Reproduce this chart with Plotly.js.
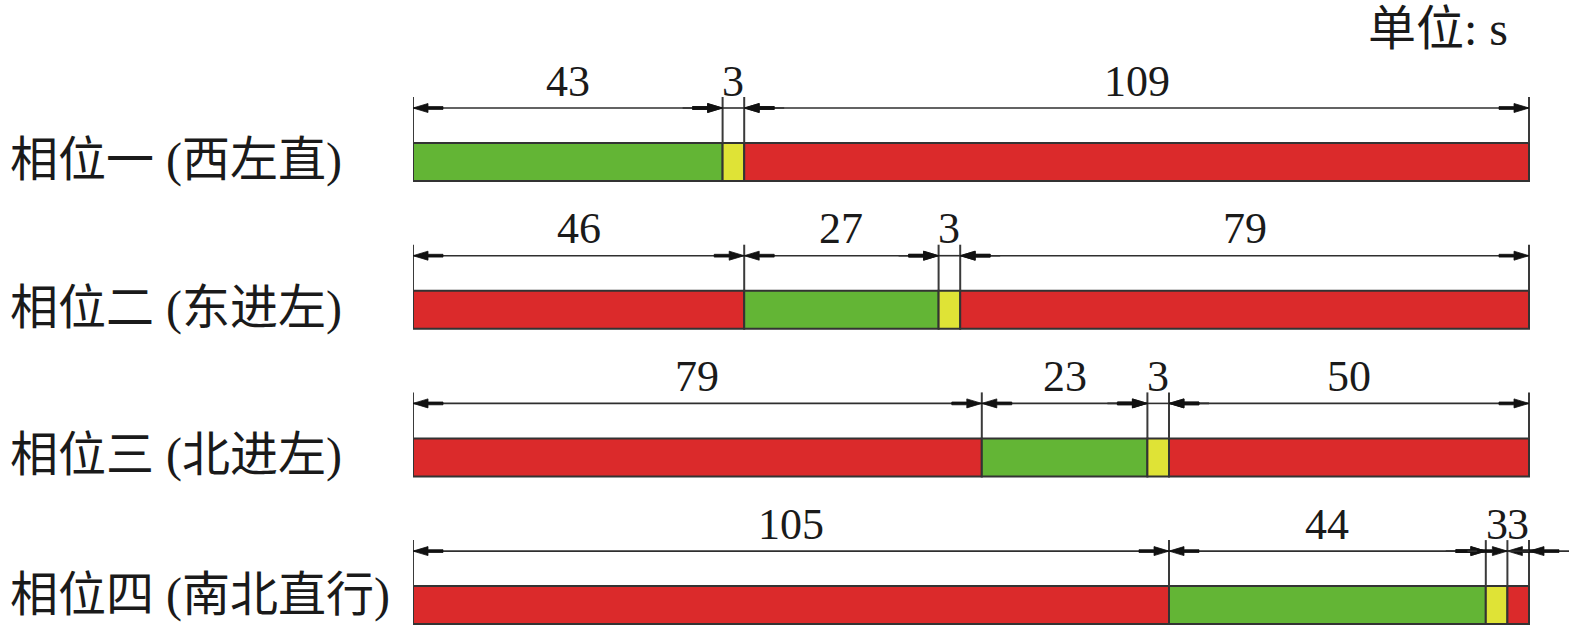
<!DOCTYPE html>
<html><head><meta charset="utf-8">
<script src="https://cdn.plot.ly/plotly-3.0.1.min.js"></script>
<style>html,body{margin:0;padding:0;background:#fff}</style>
</head><body><div id="chart" style="width:1575px;height:629px"></div>
<script>
// ---- data ----
const phaseLabels = ['相位一 (西左直)', '相位二 (东进左)', '相位三 (北进左)', '相位四 (南北直行)'];
const phase1Durations = [43, 3, 109];
const phase1States    = ['G', 'Y', 'R'];
const phase2Durations = [46, 27, 3, 79];
const phase2States    = ['R', 'G', 'Y', 'R'];
const phase3Durations = [79, 23, 3, 50];
const phase3States    = ['R', 'G', 'Y', 'R'];
const phase4Durations = [105, 44, 3, 3];
const phase4States    = ['R', 'G', 'Y', 'R'];
const cycleLength = 155;
const unitLabel = '单位: s';

// ---- styles / layout geometry ----
const stateColors = {G: '#63b535', Y: '#dfe336', R: '#db2a2b'};
const latinFont = '"Liberation Serif", "Times New Roman", "Noto Sans CJK SC", serif';
const lineColor = '#2f2f2f';
const DIM = 54, EXT_TOP = 65, BAR_HALF = 19, AH_L = 15, AH_W = 4.5, TAIL_L = 30, TAIL_W = 1.4;
const LEADER = 40, SMALL = 5;
const labelShifts = [2, 2, 2, 10];
const PLOT_LEFT = 413, PLOT_PX_PER_CYCLE = 1116, FIG_W = 1575, FIG_H = 629;
const plotWidth = FIG_W - PLOT_LEFT;
const xMax = cycleLength * plotWidth / PLOT_PX_PER_CYCLE;
const ROW_PX = 147.7, ROW0_PX = 162;
const yTop = -ROW0_PX / ROW_PX, yBottom = yTop + FIG_H / ROW_PX;

const durations = [phase1Durations, phase2Durations, phase3Durations, phase4Durations];
const states = [phase1States, phase2States, phase3States, phase4States];

const traces = [];
const shapes = [];
const annotations = [];

durations.forEach((durs, r) => {
  const starts = [];
  let acc = 0;
  durs.forEach(d => { starts.push(acc); acc += d; });
  traces.push({
    type: 'bar', orientation: 'h',
    x: durs, base: starts, y: durs.map(() => r),
    width: 38 / ROW_PX,
    marker: {color: states[r].map(s => stateColors[s]), line: {color: '#333', width: 2}},
    hoverinfo: 'skip', showlegend: false
  });
  // extension lines at every boundary
  const bounds = starts.concat([acc]);
  bounds.forEach(b => {
    shapes.push({type: 'line', xref: 'x', yref: 'y', x0: b, x1: b,
      ysizemode: 'pixel', yanchor: r, y0: EXT_TOP, y1: BAR_HALF,
      line: {color: '#3a3a3a', width: 2}});
  });
  durs.forEach((d, k) => {
    const s = starts[k], e = s + d;
    // dimension line
    shapes.push({type: 'line', xref: 'x', yref: 'y', x0: s, x1: e,
      ysizemode: 'pixel', yanchor: r, y0: DIM, y1: DIM,
      line: {color: lineColor, width: 1.6}});
    const arrow = (anchor, dir) => { // dir: +1 tip points right, -1 tip points left
      const h = -dir * AH_L, t = -dir * TAIL_L;
      return {
        type: 'path', xref: 'x', yref: 'y', xsizemode: 'pixel', xanchor: anchor,
        ysizemode: 'pixel', yanchor: r,
        path: `M0,${DIM} L${h},${DIM + AH_W} L${h},${DIM + TAIL_W} L${t},${DIM + TAIL_W} ` +
              `L${t},${DIM - TAIL_W} L${h},${DIM - TAIL_W} L${h},${DIM - AH_W} Z`,
        fillcolor: '#111', line: {color: '#111', width: 0.8}
      };
    };
    if (d >= SMALL) {
      shapes.push(arrow(s, -1));
      shapes.push(arrow(e, +1));
    } else {
      shapes.push({type: 'line', xref: 'x', yref: 'y', xsizemode: 'pixel', xanchor: s,
        x0: -LEADER, x1: 0, ysizemode: 'pixel', yanchor: r, y0: DIM, y1: DIM,
        line: {color: lineColor, width: 1.6}});
      shapes.push({type: 'line', xref: 'x', yref: 'y', xsizemode: 'pixel', xanchor: e,
        x0: 0, x1: LEADER, ysizemode: 'pixel', yanchor: r, y0: DIM, y1: DIM,
        line: {color: lineColor, width: 1.6}});
      shapes.push(arrow(s, +1));
      shapes.push(arrow(e, -1));
    }
    annotations.push({xref: 'x', yref: 'y', x: s + d / 2, y: r, yshift: 81,
      text: String(d), showarrow: false, xanchor: 'center', yanchor: 'middle',
      font: {family: latinFont, size: 44, color: '#1a1a1a'}});
  });
  annotations.push({xref: 'paper', yref: 'y', x: (8 - PLOT_LEFT) / plotWidth, y: r,
    yshift: labelShifts[r], xanchor: 'left', yanchor: 'middle',
    text: phaseLabels[r], showarrow: false,
    font: {family: latinFont, size: 48, color: '#1a1a1a'}});
});

annotations.push({xref: 'paper', yref: 'paper', x: (1366 - PLOT_LEFT) / plotWidth, y: 1, yshift: 0,
  xanchor: 'left', yanchor: 'top', text: unitLabel, showarrow: false,
  font: {family: latinFont, size: 48, color: '#1a1a1a'}});

const layout = {
  width: FIG_W, height: FIG_H,
  margin: {l: PLOT_LEFT, r: 0, t: 0, b: 0},
  paper_bgcolor: '#fff', plot_bgcolor: '#fff',
  barmode: 'overlay',
  xaxis: {range: [0, xMax], visible: false, fixedrange: true},
  yaxis: {range: [yBottom, yTop], visible: false, fixedrange: true},
  shapes: shapes,
  annotations: annotations,
  showlegend: false
};

Plotly.newPlot('chart', traces, layout, {displayModeBar: false, staticPlot: true});
</script>
</body></html>
